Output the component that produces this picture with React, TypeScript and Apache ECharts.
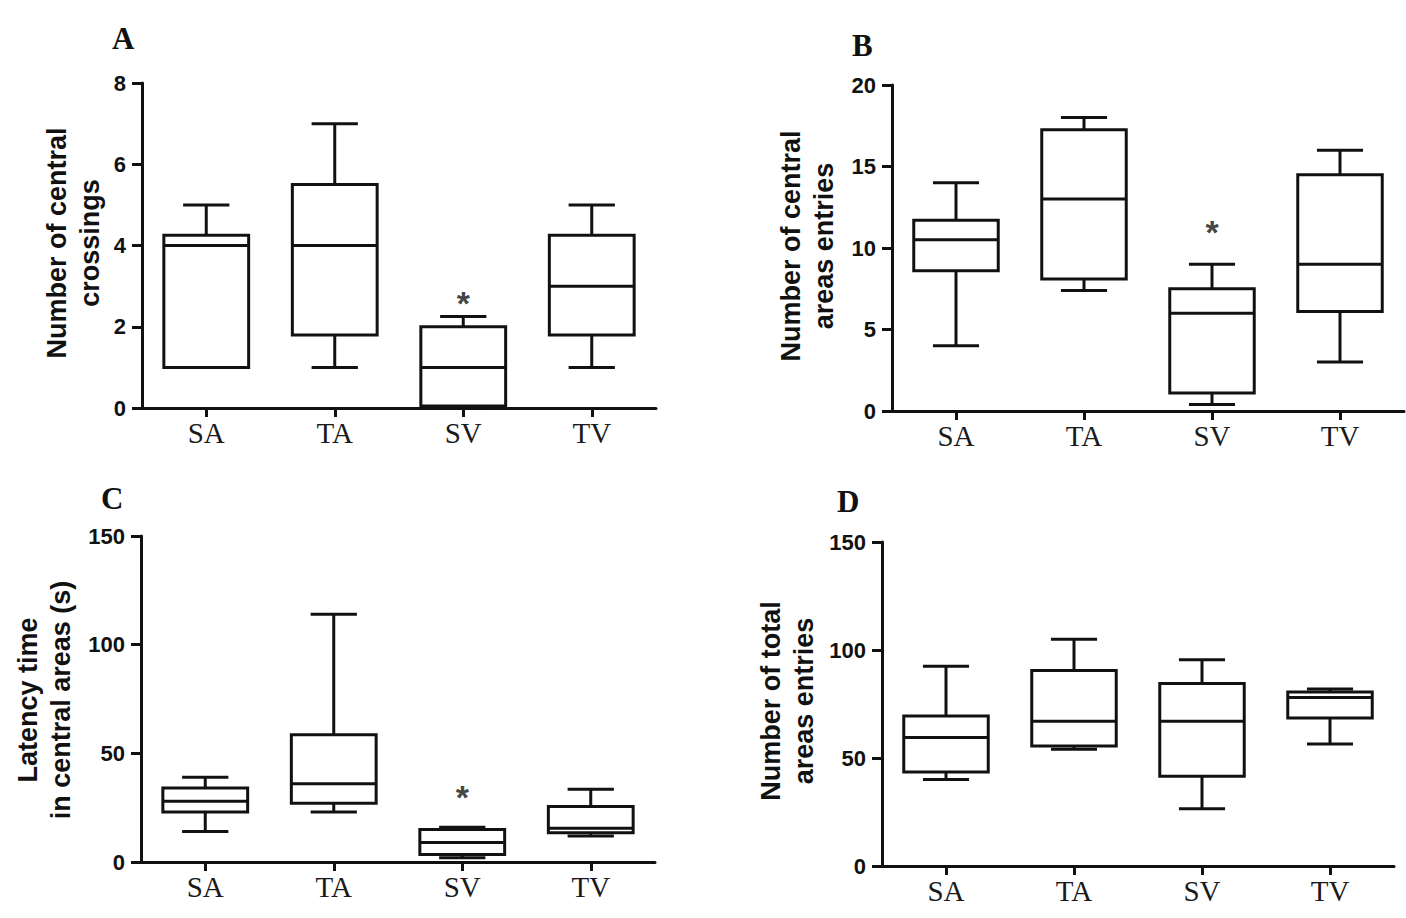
import React, { useEffect, useRef } from 'react';
import * as echarts from 'echarts';

const categories = ['SA', 'TA', 'SV', 'TV'];

// each row: [min, Q1, median, Q3, max]
const crossings = [
  [1, 1, 4, 4.25, 5],
  [1, 1.8, 4, 5.5, 7],
  [0, 0.05, 1, 2, 2.25],
  [1, 1.8, 3, 4.25, 5],
];
const centralEntries = [
  [4, 8.6, 10.5, 11.7, 14],
  [7.4, 8.1, 13, 17.25, 18],
  [0.4, 1.1, 6, 7.5, 9],
  [3, 6.1, 9, 14.5, 16],
];
const latency = [
  [14, 23, 28, 34, 39],
  [23, 27, 36, 58.5, 114],
  [2, 3.5, 9, 15, 16],
  [12, 13.5, 15.5, 25.5, 33.5],
];
const totalEntries = [
  [40, 43.5, 59.5, 69.5, 92.5],
  [54, 55.5, 67, 90.5, 105],
  [26.5, 41.5, 67, 84.5, 95.5],
  [56.5, 68.5, 78, 80.5, 82],
];

// significance marks: [category index, value]
const starsA = [[2, 2.7]];
const starsB = [[2, 11.3]];
const starsC = [[2, 32]];
const starsD: number[][] = [];

const yMax = [8, 20, 150, 150];
const yInterval = [2, 5, 50, 50];
const panelLetters = ['A', 'B', 'C', 'D'];
const yTitles = [
  'Number of central\ncrossings',
  'Number of central\nareas entries',
  'Latency time\nin central areas (s)',
  'Number of total\nareas entries',
];

const datasets = [crossings, centralEntries, latency, totalEntries];
const starSets = [starsA, starsB, starsC, starsD];

const grids = [
  { left: 142, top: 83, width: 514, height: 325 },
  { left: 892, top: 85, width: 512, height: 326 },
  { left: 141, top: 536, width: 514, height: 326 },
  { left: 882, top: 542, width: 512, height: 324 },
];
const letterPos = [
  [112, 38],
  [852, 45],
  [101, 498],
  [837, 501],
];
const titlePos = [
  [73, 243],
  [807, 246],
  [44, 700],
  [787, 701],
];

const renderBox = (params: any, api: any) => {
  const idx = api.value(0);
  const vmin = api.value(1);
  const q1 = api.value(2);
  const med = api.value(3);
  const q3 = api.value(4);
  const vmax = api.value(5);
  const band = api.size([1, 0])[0];
  const bw = band * 0.66;
  const cw = band * 0.36;
  const pMin = api.coord([idx, vmin]);
  const pQ1 = api.coord([idx, q1]);
  const pMed = api.coord([idx, med]);
  const pQ3 = api.coord([idx, q3]);
  const pMax = api.coord([idx, vmax]);
  const cx = pMed[0];
  const ls = { stroke: '#111', lineWidth: 3, fill: null };
  return {
    type: 'group',
    children: [
      { type: 'line', shape: { x1: cx, y1: pQ3[1], x2: cx, y2: pMax[1] }, style: ls },
      { type: 'line', shape: { x1: cx - cw / 2, y1: pMax[1], x2: cx + cw / 2, y2: pMax[1] }, style: ls },
      { type: 'line', shape: { x1: cx, y1: pQ1[1], x2: cx, y2: pMin[1] }, style: ls },
      { type: 'line', shape: { x1: cx - cw / 2, y1: pMin[1], x2: cx + cw / 2, y2: pMin[1] }, style: ls },
      {
        type: 'rect',
        shape: { x: cx - bw / 2, y: pQ3[1], width: bw, height: pQ1[1] - pQ3[1] },
        style: { fill: '#fff', stroke: '#111', lineWidth: 3 },
      },
      { type: 'line', shape: { x1: cx - bw / 2, y1: pMed[1], x2: cx + bw / 2, y2: pMed[1] }, style: ls },
    ],
  };
};

function buildOption() {
  const xAxis = grids.map((_, i) => ({
    type: 'category',
    gridIndex: i,
    data: categories,
    boundaryGap: true,
    axisLine: { show: true, lineStyle: { color: '#111', width: 3 } },
    axisTick: { show: true, alignWithLabel: true, length: 9, lineStyle: { color: '#111', width: 3 } },
    axisLabel: { fontFamily: 'Liberation Serif', fontSize: 29, color: '#1a1a1a', margin: 10 },
    splitLine: { show: false },
  }));
  const yAxis = grids.map((_, i) => ({
    type: 'value',
    gridIndex: i,
    min: 0,
    max: yMax[i],
    interval: yInterval[i],
    axisLine: { show: true, lineStyle: { color: '#111', width: 3 } },
    axisTick: { show: true, length: 10, lineStyle: { color: '#111', width: 3 } },
    axisLabel: { fontFamily: 'Liberation Sans', fontWeight: 'bold', fontSize: 22, color: '#111', margin: 16 },
    splitLine: { show: false },
  }));
  const series: any[] = [];
  datasets.forEach((d, i) => {
    series.push({
      type: 'custom',
      xAxisIndex: i,
      yAxisIndex: i,
      data: d.map((r, k) => [k, ...r]),
      encode: { x: 0, y: [1, 2, 3, 4, 5] },
      renderItem: renderBox,
    });
    if (starSets[i].length) {
      series.push({
        type: 'scatter',
        xAxisIndex: i,
        yAxisIndex: i,
        data: starSets[i],
        symbolSize: 1,
        itemStyle: { color: 'rgba(0,0,0,0)' },
        label: {
          show: true,
          position: 'inside',
          formatter: '*',
          fontFamily: 'Liberation Sans',
          fontWeight: 'bold',
          fontSize: 34,
          color: '#111',
          offset: [0, 5],
        },
      });
    }
  });
  const graphic: any[] = [];
  panelLetters.forEach((l, i) => {
    graphic.push({
      type: 'text',
      x: letterPos[i][0],
      y: letterPos[i][1],
      style: {
        text: l,
        font: 'bold 31px "Liberation Serif"',
        fill: '#111',
        textAlign: 'left',
        textVerticalAlign: 'middle',
      },
    });
  });
  yTitles.forEach((t, i) => {
    graphic.push({
      type: 'text',
      x: titlePos[i][0],
      y: titlePos[i][1],
      rotation: Math.PI / 2,
      style: {
        text: t,
        font: 'bold 27px "Liberation Sans"',
        lineHeight: 33,
        fill: '#111',
        textAlign: 'center',
        textVerticalAlign: 'middle',
      },
    });
  });
  return {
    animation: false,
    backgroundColor: '#fff',
    grid: grids,
    xAxis,
    yAxis,
    series,
    graphic,
  };
}

export default function App() {
  const ref = useRef<HTMLDivElement>(null);
  useEffect(() => {
    const chart = echarts.init(ref.current!, null, { renderer: 'svg' });
    chart.setOption(buildOption() as any);
    return () => chart.dispose();
  }, []);
  return (
    <div
      ref={ref}
      style={{ position: 'absolute', left: 0, top: 0, width: 1406, height: 918, background: '#fff' }}
    />
  );
}
